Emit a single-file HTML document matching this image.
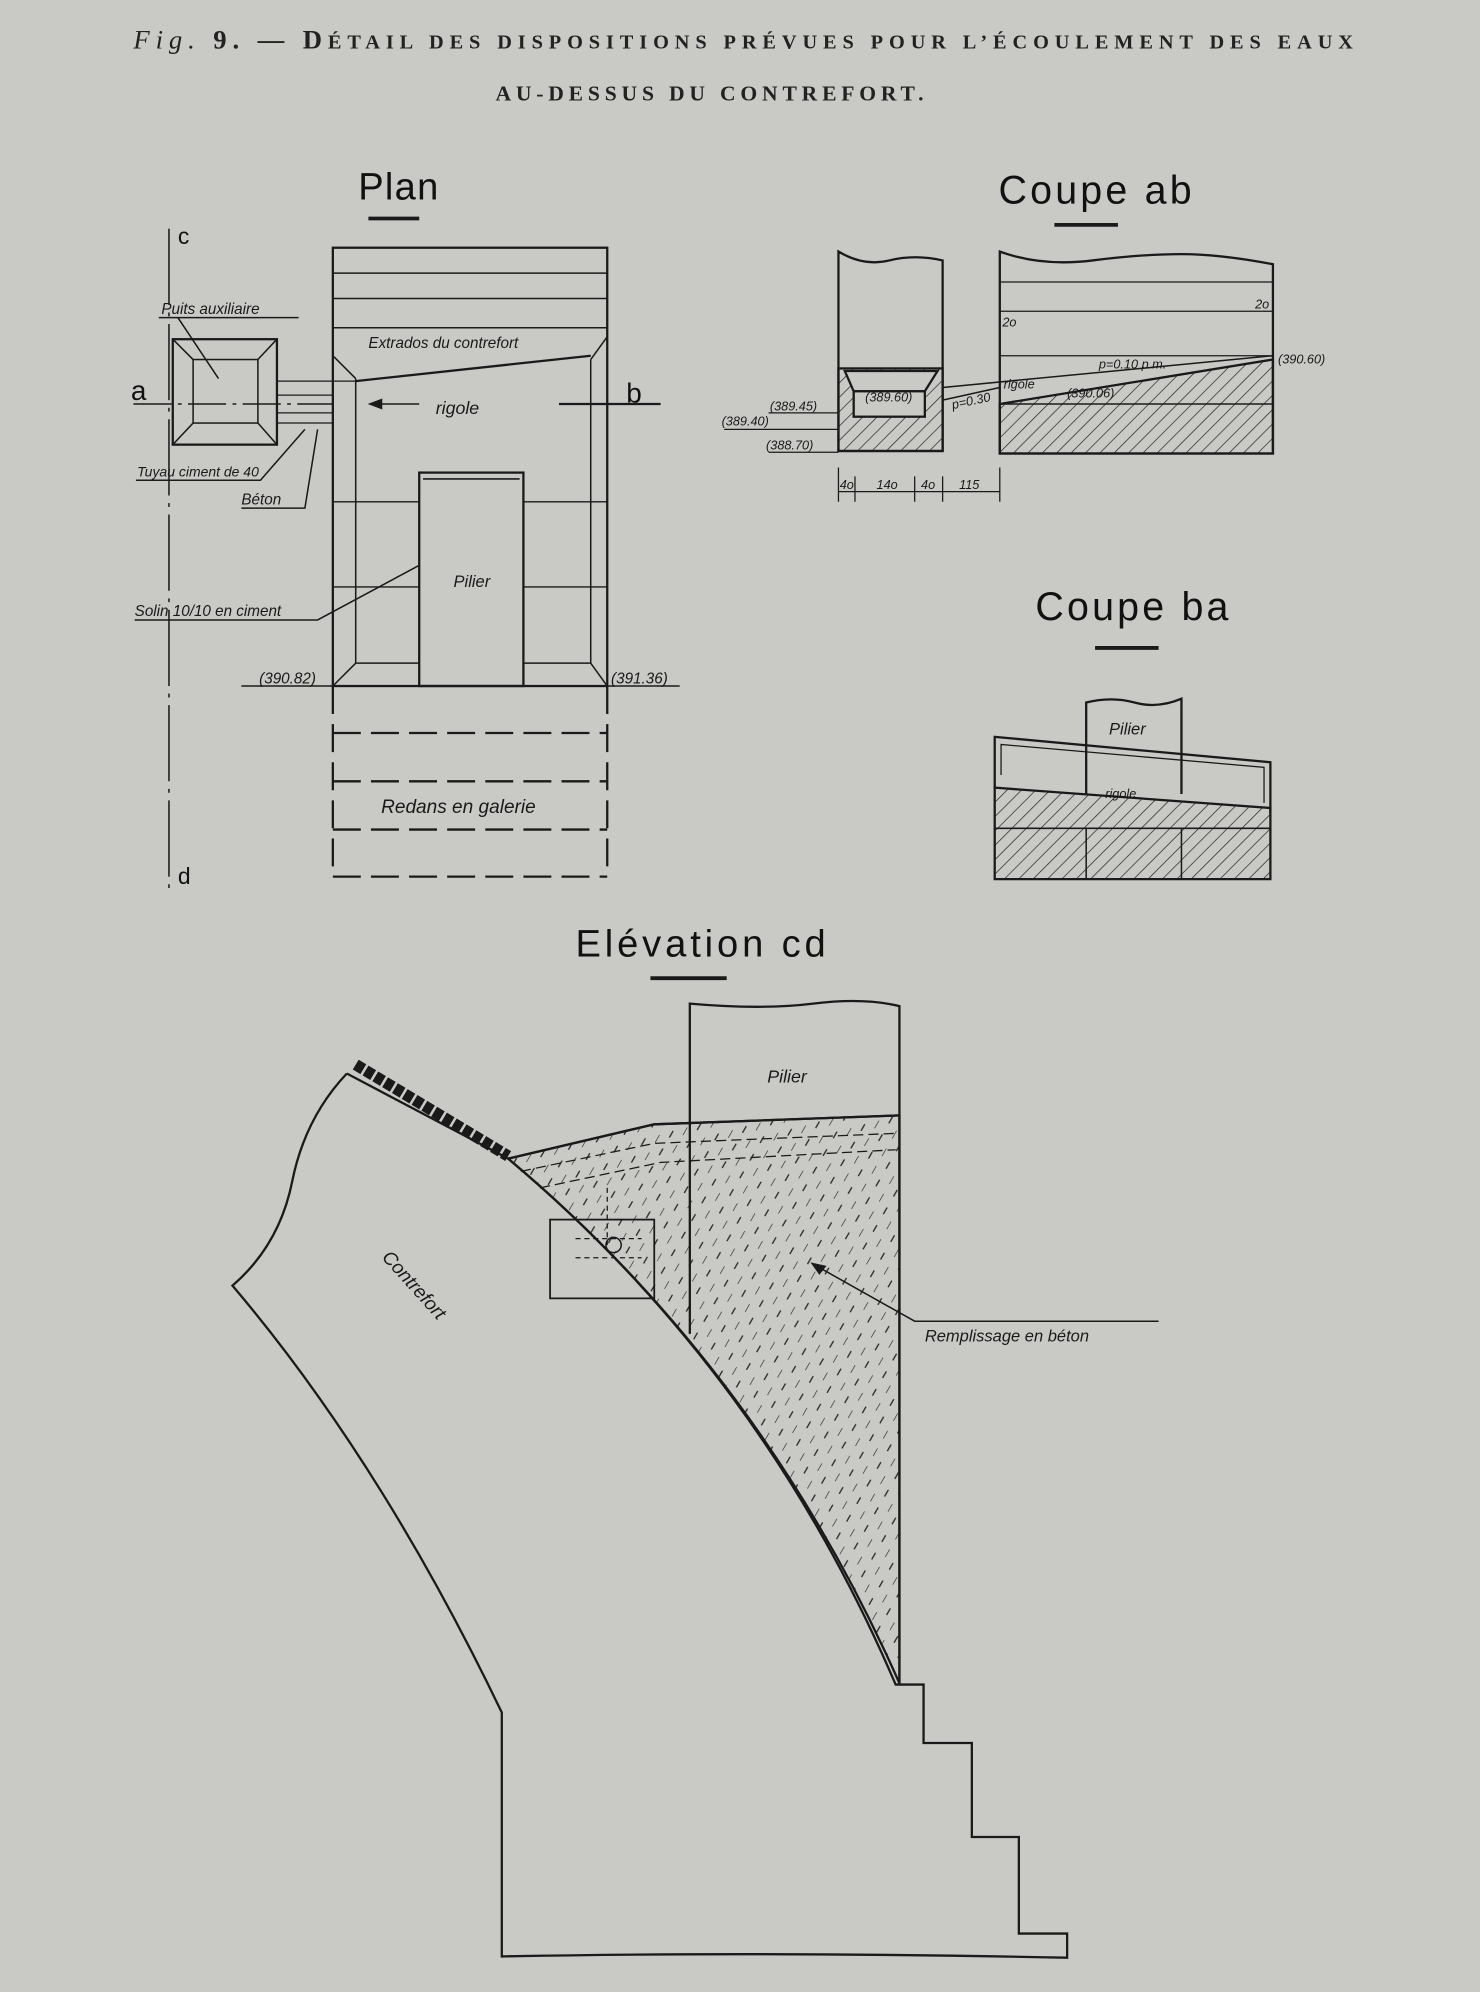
<!DOCTYPE html>
<html><head><meta charset="utf-8"><style>
html,body{margin:0;padding:0;background:#c9c9c6}
svg{display:block}
.t{font-family:"Liberation Sans",sans-serif;font-style:italic;fill:#1a1a1a}
.h{font-family:"Liberation Sans",sans-serif;fill:#111}
</style></head><body>
<svg width="1480" height="1992" viewBox="0 0 1165 1568" preserveAspectRatio="none" xmlns="http://www.w3.org/2000/svg">
<defs>
<pattern id="hat" width="8" height="8" patternUnits="userSpaceOnUse" patternTransform="rotate(45)"><line x1="0" y1="0" x2="0" y2="8" stroke="#222" stroke-width="1.1"/></pattern>
<pattern id="dsh" width="16" height="16" patternUnits="userSpaceOnUse" patternTransform="rotate(30)"><line x1="0" y1="2" x2="0" y2="9" stroke="#222" stroke-width="1"/><line x1="8" y1="10" x2="8" y2="17" stroke="#222" stroke-width="1"/></pattern>
</defs>
<rect width="1165" height="1568" fill="#c9c9c6"/>
<g font-family="Liberation Serif,serif" fill="#222" font-weight="bold">
<text x="105" y="38" font-size="21" textLength="960" lengthAdjust="spacing"><tspan font-style="italic" font-weight="normal">Fig.</tspan> 9. — D<tspan font-size="16">ÉTAIL DES DISPOSITIONS PRÉVUES POUR L’ÉCOULEMENT DES EAUX</tspan></text>
<text x="390" y="79" font-size="17" textLength="337" lengthAdjust="spacing">AU-DESSUS DU CONTREFORT.</text>
</g>
<g stroke="#1a1a1a" fill="none" stroke-width="1.8">
<!-- Plan -->
<line x1="290" y1="172" x2="330" y2="172" stroke-width="3"/>
<line x1="133" y1="180" x2="133" y2="700" stroke-width="1.2" stroke-dasharray="60 6 3 6"/>
<rect x="262" y="195" width="216" height="345"/>
<line x1="262" y1="215" x2="478" y2="215" stroke-width="1.2"/>
<line x1="262" y1="235" x2="478" y2="235" stroke-width="1.2"/>
<line x1="262" y1="258" x2="478" y2="258" stroke-width="1.2"/>
<line x1="280" y1="298" x2="280" y2="522" stroke-width="1.2"/>
<line x1="465" y1="283" x2="465" y2="522" stroke-width="1.2"/>
<line x1="262" y1="280" x2="280" y2="298" stroke-width="1.2"/>
<line x1="478" y1="265" x2="465" y2="283" stroke-width="1.2"/>
<line x1="280" y1="300" x2="465" y2="280"/>
<rect x="330" y="372" width="82" height="168"/>
<line x1="333" y1="377" x2="409" y2="377" stroke-width="1.2"/>
<line x1="262" y1="395" x2="330" y2="395" stroke-width="1"/><line x1="412" y1="395" x2="478" y2="395" stroke-width="1"/>
<line x1="262" y1="462" x2="330" y2="462" stroke-width="1"/><line x1="412" y1="462" x2="478" y2="462" stroke-width="1"/>
<line x1="280" y1="522" x2="330" y2="522" stroke-width="1.2"/><line x1="412" y1="522" x2="465" y2="522" stroke-width="1.2"/>
<line x1="280" y1="522" x2="262" y2="540" stroke-width="1.2"/><line x1="465" y1="522" x2="478" y2="540" stroke-width="1.2"/>
<line x1="262" y1="540" x2="262" y2="690" stroke-dasharray="22 8"/>
<line x1="478" y1="540" x2="478" y2="690" stroke-dasharray="22 8"/>
<line x1="262" y1="577" x2="478" y2="577" stroke-dasharray="22 8"/>
<line x1="262" y1="615" x2="478" y2="615" stroke-dasharray="22 8"/>
<line x1="262" y1="653" x2="478" y2="653" stroke-dasharray="22 8"/>
<line x1="262" y1="690" x2="478" y2="690" stroke-dasharray="22 8"/>
<rect x="136" y="267" width="82" height="83"/>
<rect x="152" y="283" width="51" height="50" stroke-width="1.2"/>
<path d="M136 267L152 283M218 267L203 283M136 350L152 333M218 350L203 333" stroke-width="1.2"/>
<line x1="105" y1="318" x2="262" y2="318" stroke-width="1.2" stroke-dasharray="30 5 3 5"/>
<line x1="440" y1="318" x2="520" y2="318"/>
<path d="M218 300H280M218 311H262M218 325H262M218 333H262" stroke-width="1"/>
<line x1="330" y1="318" x2="292" y2="318" stroke-width="1.2"/>
<path d="M292 318l8 -3v6z" fill="#1a1a1a"/>
<path d="M125 250H235M140 250L172 298" stroke-width="1.2"/>
<path d="M107 378H205L240 338M190 400H240L250 338" stroke-width="1.2"/>
<path d="M106 488H250L330 445" stroke-width="1.2"/>
<path d="M190 540H262M478 540H535" stroke-width="1.2"/>
<!-- Coupe ab -->
<line x1="830" y1="177" x2="880" y2="177" stroke-width="3"/>
<path d="M660 355V198Q680 210 700 205T742 205V355Z"/>
<rect x="660" y="290" width="82" height="65" fill="url(#hat)"/>
<path d="M665 292H738L728 308H672Z" fill="#c9c9c6"/>
<rect x="672" y="308" width="56" height="20" fill="#c9c9c6"/>
<path d="M787 357V198Q820 210 860 205T930 200T1002 208V357Z"/>
<path d="M787 222H1002M787 245H1002M787 280H1002" stroke-width="1"/>
<path d="M787 318L1002 283V357H787Z" fill="url(#hat)"/>
<path d="M787 318H1002" stroke-width="1.2"/>
<path d="M742 305L1002 280M742 315L787 305" stroke-width="1.2"/>
<path d="M570 338H660M605 325H660M605 356H660" stroke-width="1"/>
<path d="M660 387H787M660 368V395M673 375V395M720 375V395M742 375V395M787 368V395" stroke-width="1"/>
<!-- Coupe ba -->
<line x1="862" y1="510" x2="912" y2="510" stroke-width="3"/>
<path d="M783 620V580L1000 600V640" />
<path d="M788 610V586L995 604V632" stroke-width="1"/>
<path d="M855 625V553Q875 548 893 553T930 550V625"/>
<path d="M783 620L1000 636V692H783Z" fill="url(#hat)"/>
<path d="M783 652H1000M855 652V692M930 652V692" stroke-width="1.2"/>
<!-- Elevation -->
<line x1="512" y1="770" x2="572" y2="770" stroke-width="3"/>
<path d="M400 912L515 885L708 878L708 1325Q600 1080 400 912Z" fill="url(#dsh)"/>
<path d="M543 1050V790Q600 795 640 790T708 792V1326"/>
<path d="M273 845Q240 880 230 930T183 1012Q300 1150 395 1348V1540Q600 1536 840 1541V1522H802V1446H765V1372H727V1326H705Q600 1080 400 912L273 845"/>
<path d="M400 912L515 885L708 878" />
<path d="M410 922L515 900L708 892M425 935L520 915L705 905" stroke-width="1" stroke-dasharray="8 4"/>
<path d="M280 838L400 910" stroke-width="9" stroke-dasharray="7 2"/>
<rect x="433" y="960" width="82" height="62" stroke-width="1.4"/>
<path d="M453 975H505M453 990H505M478 935V980" stroke-width="1" stroke-dasharray="4 3"/>
<circle cx="483" cy="980" r="6" stroke-width="1.2"/>
<path d="M640 995L720 1040H912" stroke-width="1.2"/>
<path d="M640 995l9 2-4 5z" fill="#1a1a1a"/>
</g>
<g>
<text class="h" x="282" y="157" font-size="30" textLength="63">Plan</text>
<text class="h" x="786" y="160" font-size="31" textLength="152">Coupe ab</text>
<text class="h" x="815" y="488" font-size="31" textLength="152">Coupe ba</text>
<text class="h" x="453" y="753" font-size="30" textLength="197">Elévation cd</text>
<text class="h" x="140" y="192" font-size="18">c</text>
<text class="h" x="140" y="696" font-size="18">d</text>
<text class="h" x="103" y="315" font-size="22">a</text>
<text class="h" x="493" y="317" font-size="22">b</text>
<text class="t" x="127" y="247" font-size="12">Puits auxiliaire</text>
<text class="t" x="290" y="274" font-size="12">Extrados du contrefort</text>
<text class="t" x="343" y="326" font-size="14">rigole</text>
<text class="t" x="108" y="375" font-size="11">Tuyau ciment de 40</text>
<text class="t" x="190" y="397" font-size="12">Béton</text>
<text class="t" x="106" y="485" font-size="12">Solin 10/10 en ciment</text>
<text class="t" x="357" y="462" font-size="13">Pilier</text>
<text class="t" x="204" y="538" font-size="12">(390.82)</text>
<text class="t" x="481" y="538" font-size="12">(391.36)</text>
<text class="t" x="300" y="640" font-size="15">Redans en galerie</text>
<g font-size="10" class="t">
<text x="606" y="323">(389.45)</text>
<text x="568" y="335">(389.40)</text>
<text x="603" y="354">(388.70)</text>
<text x="681" y="316">(389.60)</text>
<text x="1006" y="286">(390.60)</text>
<text x="865" y="290">p=0.10 p.m.</text>
<text x="750" y="322" transform="rotate(-12 750 322)">p=0.30</text>
<text x="790" y="306">rigole</text>
<text x="840" y="313">(390.06)</text>
<text x="789" y="257">2o</text>
<text x="988" y="243">2o</text>
<text x="661" y="385">4o</text>
<text x="690" y="385">14o</text>
<text x="725" y="385">4o</text>
<text x="755" y="385">115</text>
<text x="870" y="628">rigole</text>
</g>
<text class="t" x="873" y="578" font-size="13">Pilier</text>
<text class="t" x="604" y="852" font-size="14">Pilier</text>
<text class="t" x="300" y="990" font-size="15" transform="rotate(48 300 990)">Contrefort</text>
<text class="t" x="728" y="1056" font-size="13">Remplissage en béton</text>
</g>
</svg>
</body></html>
